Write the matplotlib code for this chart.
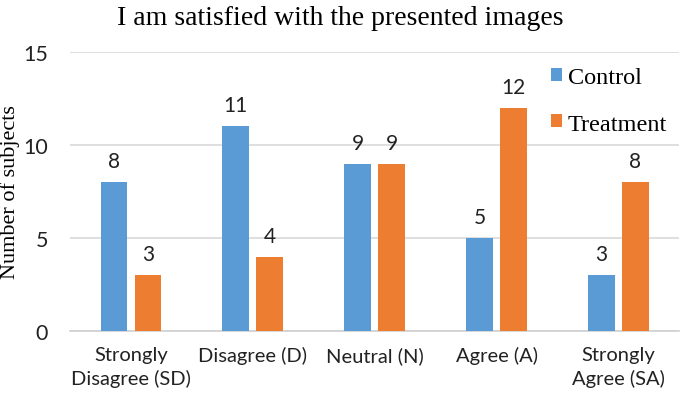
import numpy as np
import matplotlib.pyplot as plt

categories = ["Strongly\nDisagree (SD)", "Disagree (D)", "Neutral (N)", "Agree (A)", "Strongly\nAgree (SA)"]
control = [8, 11, 9, 5, 3]
treatment = [3, 4, 9, 12, 8]

blue = "#5B9BD5"
orange = "#ED7D31"
sans = ["Lato", "DejaVu Sans"]
serif = ["Liberation Serif", "DejaVu Serif"]

fig = plt.figure(figsize=(6.8, 4.02), dpi=100)
ax = fig.add_axes([0.103, 0.174, 0.896, 0.694])

x = np.arange(len(categories))
w = 0.22
off = 0.14
b1 = ax.bar(x - off, control, w, color=blue, label="Control", zorder=3)
b2 = ax.bar(x + off, treatment, w, color=orange, label="Treatment", zorder=3)

for bars in (b1, b2):
    for r in bars:
        ax.annotate(str(int(r.get_height())), (r.get_x() + r.get_width() / 2, r.get_height()),
                    xytext=(0, 8), textcoords="offset points", ha="center", va="bottom",
                    fontsize=15, family=sans, color="#222222")

ax.set_xlim(-0.5, len(categories) - 0.5)
ax.set_ylim(0, 15)
ax.set_yticks([0, 5, 10, 15])
ax.set_xticks(x)
ax.set_xticklabels(categories, family=sans, fontsize=14.5, linespacing=1.4)
for t in ax.get_yticklabels():
    t.set_family(sans)
    t.set_fontsize(15.5)
ax.tick_params(length=0, colors="#222222")
ax.tick_params(axis="x", pad=11)
ax.tick_params(axis="y", pad=16)
ax.yaxis.grid(True, color="#d9d9d9", linewidth=1.2, zorder=0)
for s in ["top", "right", "left"]:
    ax.spines[s].set_visible(False)
ax.spines["bottom"].set_color("#d0d0d0")
ax.spines["bottom"].set_linewidth(1.2)

fig.text(10 / 680, 1 - 192 / 402, "Number of subjects", rotation=90, ha="center", va="center",
         family=serif, fontsize=16)
fig.text(0.5, 0.953, "I am satisfied with the presented images", ha="center", va="center",
         family=serif, fontsize=20)

fig.legend(loc="upper left", bbox_to_anchor=(534 / 680, 1 - 51 / 402), frameon=False,
           prop={"family": serif, "size": 17.5}, handlelength=0.45, handleheight=0.45,
           handletextpad=0.25, labelspacing=1.05, borderpad=0.2)

fig.savefig("out.png", dpi=100)
